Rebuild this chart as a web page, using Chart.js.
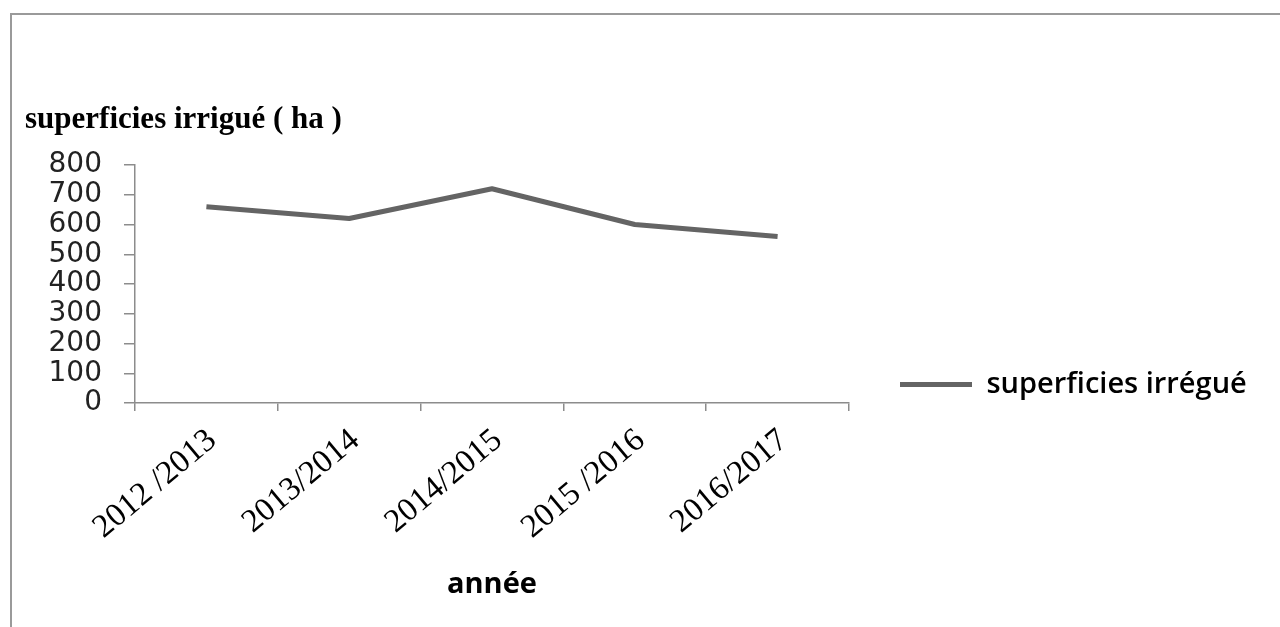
<!DOCTYPE html>
<html lang="fr">
<head>
<meta charset="utf-8">
<title>superficies irrigué</title>
<script src="https://cdn.jsdelivr.net/npm/chart.js@4/dist/chart.umd.min.js"></script>
<style>
  html, body {
    margin: 0;
    padding: 0;
    background: #fff;
    overflow: hidden;
  }
  .frame {
    position: absolute;
    left: 10px;
    top: 13px;
    width: 1300px;
    height: 640px;
    border-top: 2px solid #9a9a9a;
    border-left: 2px solid #9a9a9a;
  }
  .chart-wrapper {
    position: absolute;
    left: 0;
    top: 0;
    width: 1280px;
    height: 627px;
  }
</style>
</head>
<body>
<div class="frame"></div>
<div class="chart-wrapper">
  <canvas id="areaChart"></canvas>
</div>
<script>
  // campaigns on the x axis and irrigated surface (ha) per campaign
  const seasons = ["2012 /2013", "2013/2014", "2014/2015", "2015 /2016", "2016/2017"];
  const irrigatedArea = [660, 620, 720, 600, 560];
  const areaTicks = [0, 100, 200, 300, 400, 500, 600, 700, 800];

  const seriesLabel = "superficies irrégué";
  const yTitle = "superficies irrigué ( ha )";
  const xTitle = "année";

  const lineColor = "#646464";
  const axisColor = "#8c8c8c";

  // plot box edges in page pixels
  const plotLeft = 135;
  const plotRight = 849;
  const plotTop = 165;
  const plotBottom = 403;
  const pageW = 1280;
  const pageH = 627;

  const padLeft = 25;
  const legendGap = 47;
  const legendPad = 4;
  const legendBox = 72;
  const legendFont = { family: "'Open Sans', sans-serif", size: 29, weight: "600" };

  // work out the legend width so the plot ends where it should
  const probe = document.createElement("canvas").getContext("2d");
  probe.font = `600 ${legendFont.size}px 'Open Sans', sans-serif`;
  const legendTextW = probe.measureText(seriesLabel).width;
  const legendW = legendPad + legendBox + legendFont.size / 2 + legendTextW + 10;
  const padRight = pageW - plotRight - legendGap - legendW;

  const titleFont = { family: "'Liberation Serif', serif", size: 31, weight: "bold" };
  const titleLine = titleFont.size * 1.2;
  const titleTop = 120 - titleLine / 2;

  const ctx = document.getElementById("areaChart");

  const chart = new Chart(ctx, {
    type: "line",
    data: {
      labels: seasons,
      datasets: [
        {
          label: seriesLabel,
          data: irrigatedArea,
          yAxisID: "y",
          borderColor: lineColor,
          backgroundColor: lineColor,
          borderWidth: 5,
          borderJoinStyle: "round",
          pointRadius: 0,
          pointHoverRadius: 0,
          tension: 0,
          fill: false,
        },
      ],
    },
    options: {
      responsive: true,
      maintainAspectRatio: false,
      animation: false,
      events: [],
      layout: {
        padding: { left: padLeft, right: padRight, top: 0, bottom: 0 },
      },
      plugins: {
        title: {
          display: true,
          text: yTitle,
          align: "start",
          color: "#000",
          font: titleFont,
          padding: { top: titleTop, bottom: plotTop - titleTop - titleLine },
        },
        legend: {
          display: true,
          position: "right",
          align: "end",
          fullSize: false,
          maxWidth: 600,
          labels: {
            boxWidth: legendBox,
            boxHeight: 5,
            padding: legendPad,
            color: "#000",
            font: legendFont,
            generateLabels: (c) =>
              Chart.defaults.plugins.legend.labels
                .generateLabels(c)
                .map((item) => ({ ...item, lineWidth: 0 })),
          },
        },
        tooltip: { enabled: false },
      },
      scales: {
        x: {
          type: "category",
          offset: true,
          grid: {
            offset: true,
            drawOnChartArea: false,
            drawTicks: true,
            tickLength: 8,
            color: axisColor,
            lineWidth: 1.5,
          },
          border: { display: true, color: axisColor, width: 1.5 },
          ticks: {
            autoSkip: false,
            minRotation: 40,
            maxRotation: 40,
            padding: 10,
            labelOffset: 6,
            color: "#000",
            font: { family: "'Liberation Serif', serif", size: 33 },
          },
          title: {
            display: true,
            text: xTitle,
            color: "#000",
            font: { family: "'Open Sans', sans-serif", size: 29, weight: "bold" },
            padding: { top: 0, bottom: 25 },
          },
          afterFit: (scale) => {
            scale.height = pageH - plotBottom;
          },
        },
        y: {
          type: "linear",
          position: "left",
          min: 0,
          max: 800,
          grid: {
            drawOnChartArea: false,
            drawTicks: true,
            tickLength: 11,
            color: axisColor,
            lineWidth: 1.5,
          },
          border: { display: true, color: axisColor, width: 1.5 },
          ticks: {
            autoSkip: false,
            padding: 22,
            color: "#222",
            font: { family: "'DejaVu Sans', sans-serif", size: 28 },
          },
          afterBuildTicks: (scale) => {
            scale.ticks = areaTicks.map((v) => ({ value: v }));
          },
          afterFit: (scale) => {
            scale.width = plotLeft - padLeft;
          },
        },
        // empty right-hand strip that keeps the legend away from the plot
        gap: {
          type: "linear",
          position: "right",
          display: true,
          grid: { display: false, drawTicks: false },
          border: { display: false },
          ticks: { display: false },
          afterFit: (scale) => {
            scale.width = legendGap;
          },
        },
      },
    },
  });
</script>
</body>
</html>
